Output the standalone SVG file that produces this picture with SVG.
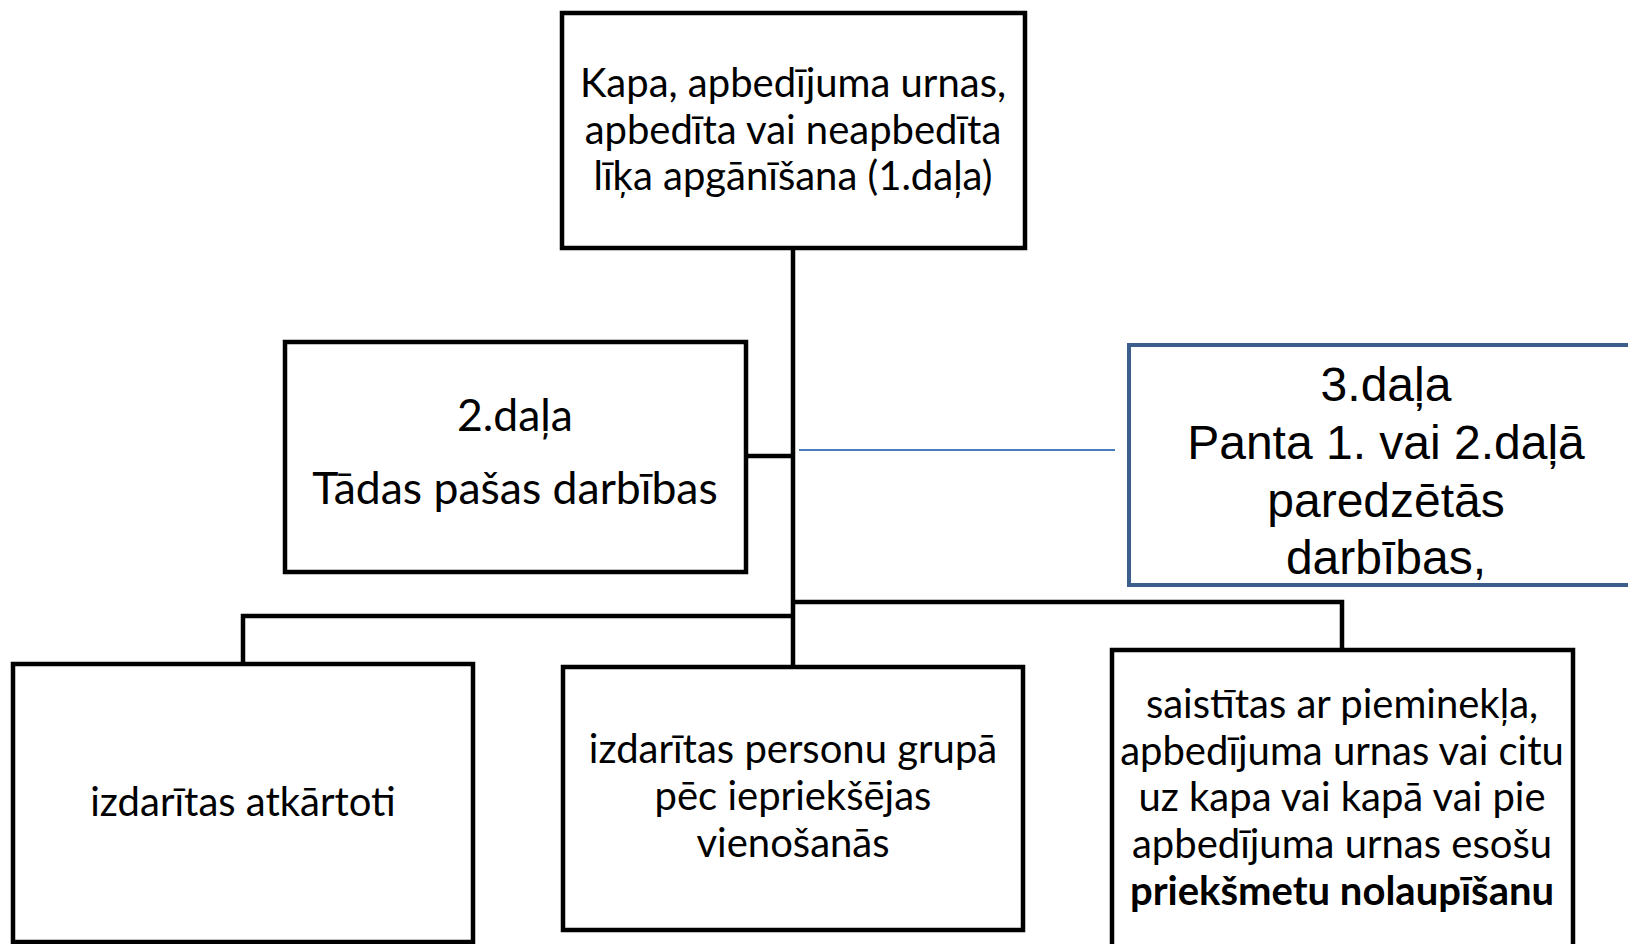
<svg xmlns="http://www.w3.org/2000/svg" width="1628" height="944" viewBox="0 0 1628 944">
<style>
.box{fill:#fff;stroke:#000;stroke-width:4.5}
.bbox{fill:#fff;stroke:#3B5E8C;stroke-width:4}
.conn{fill:none;stroke:#000;stroke-width:4.5;stroke-linejoin:miter}
.blue{fill:none;stroke:#4A7EBB;stroke-width:2.2}
.t{font-family:Lato,"Open Sans","Liberation Sans",sans-serif;font-size:40px;fill:#000;text-anchor:middle}
.big{font-size:44.5px}
.a{font-family:"Liberation Sans",Arial,sans-serif;font-size:48px;fill:#000;text-anchor:middle}
.b{font-weight:bold}
</style>
<rect width="1628" height="944" fill="#fff"/>
<g id="connectors">
<path class="conn" d="M793 248 V667"/>
<path class="conn" d="M746 456 H793"/>
<path class="conn" d="M243 664 V616 H793"/>
<path class="conn" d="M793 602 H1342 V650"/>
<path class="blue" d="M799 450 H1115"/>
</g>
<g id="n1">
<rect class="box" x="562" y="13" width="463" height="235"/>
<text class="t" x="793" y="97">Kapa, apbedījuma urnas,</text>
<text class="t" x="793" y="144">apbedīta vai neapbedīta</text>
<text class="t" x="793" y="190">līķa apgānīšana (1.daļa)</text>
</g>
<g id="n2">
<rect class="box" x="285" y="342" width="461" height="230"/>
<text class="t big" x="515" y="431">2.daļa</text>
<text class="t big" x="515" y="504">Tādas pašas darbības</text>
</g>
<g id="n3">
<rect class="bbox" x="1129" y="345" width="520" height="240"/>
<text class="a" x="1386" y="401">3.daļa</text>
<text class="a" x="1386" y="459">Panta 1. vai 2.daļā</text>
<text class="a" x="1386" y="517">paredzētās</text>
<text class="a" x="1386" y="574">darbības,</text>
</g>
<g id="n4">
<rect class="box" x="13" y="664" width="460" height="278"/>
<text class="t" x="243" y="816">izdarītas atkārtoti</text>
</g>
<g id="n5">
<rect class="box" x="563" y="667" width="460" height="263"/>
<text class="t" x="793" y="763">izdarītas personu grupā</text>
<text class="t" x="793" y="810">pēc iepriekšējas</text>
<text class="t" x="793" y="857">vienošanās</text>
</g>
<g id="n6">
<rect class="box" x="1112" y="650" width="461" height="320"/>
<text class="t" x="1342" y="718">saistītas ar pieminekļa,</text>
<text class="t" x="1342" y="765">apbedījuma urnas vai citu</text>
<text class="t" x="1342" y="811">uz kapa vai kapā vai pie</text>
<text class="t" x="1342" y="858">apbedījuma urnas esošu</text>
<text class="t b" x="1342" y="905">priekšmetu nolaupīšanu</text>
</g>
</svg>
